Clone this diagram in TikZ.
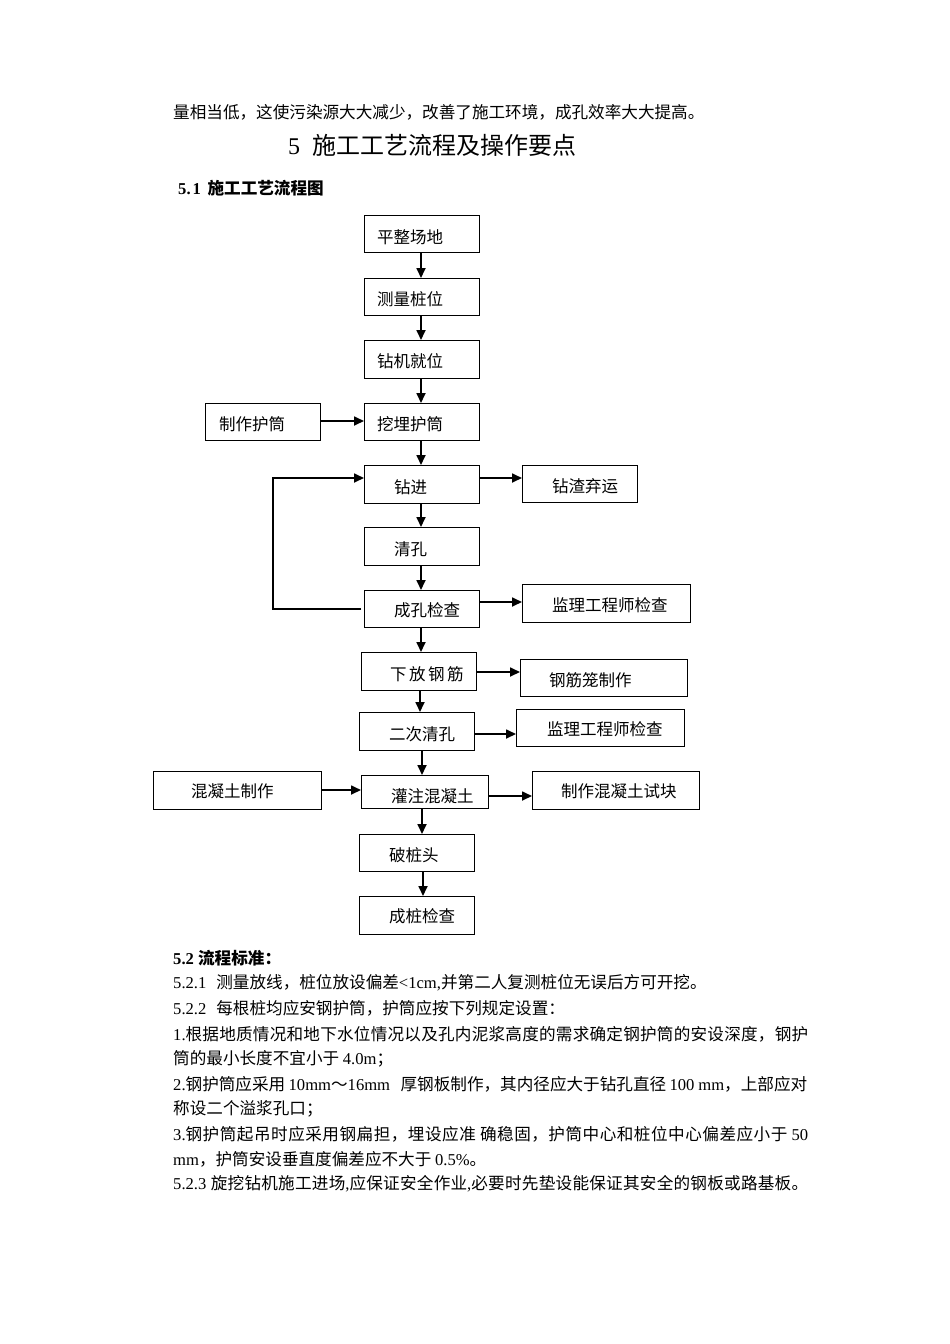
\documentclass[tikz,border=0pt]{standalone}
\usepackage{fontspec}
\usetikzlibrary{arrows.meta}
\setmainfont{Liberation Serif}
\newfontfamily\cjk{Noto Sans CJK SC}
\XeTeXinterchartokenstate=1
\newXeTeXintercharclass\cjkclass
\count255="3000
\loop \XeTeXcharclass\count255=\cjkclass \ifnum\count255<"303F \advance\count255 by 1 \repeat
\count255="4E00
\loop \XeTeXcharclass\count255=\cjkclass \ifnum\count255<"9FFF \advance\count255 by 1 \repeat
\count255="FF00
\loop \XeTeXcharclass\count255=\cjkclass \ifnum\count255<"FFEF \advance\count255 by 1 \repeat
\XeTeXinterchartoks 0 \cjkclass = {\cjk}
\XeTeXinterchartoks 4095 \cjkclass = {\cjk}
\XeTeXinterchartoks \cjkclass 0 = {\rmfamily}
\XeTeXinterchartoks 4095 0 = {\rmfamily}
\XeTeXinterchartoks \cjkclass \cjkclass = {\hskip 0pt plus 2pt}
\newcommand\flowbox[8]{%
  \node[boxstyle, minimum width={#4-#2}, minimum height={#5-#3}, anchor=north west] (#1) at (#2,#3) {};
  \node[lbl, anchor=west] (#1t) at (#6,#7) {#8};
}
\begin{document}
\begin{tikzpicture}[x=1pt,y=-1pt,
  boxstyle/.style={draw=black, line width=1.3pt, inner sep=0pt, rectangle},
  lbl/.style={inner sep=0pt, font=\fontsize{16.5}{19}\selectfont},
  para/.style={inner sep=0pt, anchor=west, font=\fontsize{16.6}{19}\selectfont},
  head/.style={para, font=\bfseries\fontsize{16.6}{19}\selectfont},
  arr/.style={line width=1.7pt, -{Triangle[length=10pt,width=9pt]}},
  ln/.style={line width=1.7pt}]
\useasboundingbox[fill=white] (0,0) rectangle (950,1344);

% text above
\node[para] (p0) at (173,112) {量相当低，这使污染源大大减少，改善了施工环境，成孔效率大大提高。};
\node[para, font=\fontsize{24}{28}\selectfont] (title) at (288,145) {5\hspace{0.5em}施工工艺流程及操作要点};
\node[head] (h51) at (178,188) {5.\hspace{2pt}1\hspace{0.4em}施工工艺流程图};

% boxes
\flowbox{b1}{364}{215}{479}{252}{377}{237}{平整场地}
\flowbox{b2}{364}{278}{479}{315}{377}{299}{测量桩位}
\flowbox{b3}{364}{340}{479}{378}{377}{361}{钻机就位}
\flowbox{b4}{364}{403}{479}{440}{377}{424}{挖埋护筒}
\flowbox{b5}{205}{403}{320}{440}{219}{424}{制作护筒}
\flowbox{b6}{364}{465}{479}{503}{394}{487}{钻进}
\flowbox{b7}{522}{465}{637}{502}{552}{486}{钻渣弃运}
\flowbox{b8}{364}{527}{479}{565}{394}{549}{清孔}
\flowbox{b9}{364}{590}{479}{627}{394}{610}{成孔检查}
\flowbox{b10}{522}{584}{690}{622}{552}{605}{监理工程师检查}
\flowbox{b11}{361}{652}{476}{690}{390}{674}{下\hspace{2.5pt}放\hspace{2.5pt}钢\hspace{2.5pt}筋}
\flowbox{b12}{520}{659}{687}{696}{549}{680}{钢筋笼制作}
\flowbox{b13}{359}{712}{474}{750}{389}{734}{二次清孔}
\flowbox{b14}{516}{709}{684}{746}{547}{729}{监理工程师检查}
\flowbox{b15}{153}{771}{321}{809}{191}{791}{混凝土制作}
\flowbox{b16}{361}{775}{488}{808}{391}{796}{灌注混凝土}
\flowbox{b17}{532}{771}{699}{809}{561}{791}{制作混凝土试块}
\flowbox{b18}{359}{834}{474}{871}{389}{855}{破桩头}
\flowbox{b19}{359}{896}{474}{934}{389}{916}{成桩检查}

% vertical arrows
\draw[arr] (b1.south -| 421,0) -- (b2.north -| 421,0);
\draw[arr] (b2.south -| 421,0) -- (b3.north -| 421,0);
\draw[arr] (b3.south -| 421,0) -- (b4.north -| 421,0);
\draw[arr] (b4.south -| 421,0) -- (b6.north -| 421,0);
\draw[arr] (b6.south -| 421,0) -- (b8.north -| 421,0);
\draw[arr] (b8.south -| 421,0) -- (b9.north -| 421,0);
\draw[arr] (b9.south -| 421,0) -- (b11.north -| 421,0);
\draw[arr] (b11.south -| 420,0) -- (b13.north -| 420,0);
\draw[arr] (b13.south -| 422,0) -- (b16.north -| 422,0);
\draw[arr] (b16.south -| 422,0) -- (b18.north -| 422,0);
\draw[arr] (b18.south -| 423,0) -- (b19.north -| 423,0);

% horizontal arrows
\draw[arr] (b5.east |- 0,421) -- (b4.west |- 0,421);
\draw[arr] (b6.east |- 0,478) -- (b7.west |- 0,478);
\draw[arr] (b9.east |- 0,602) -- (b10.west |- 0,602);
\draw[arr] (b11.east |- 0,672) -- (b12.west |- 0,672);
\draw[arr] (b13.east |- 0,734) -- (b14.west |- 0,734);
\draw[arr] (b15.east |- 0,790) -- (b16.west |- 0,790);
\draw[arr] (b16.east |- 0,796) -- (b17.west |- 0,796);
% feedback loop
\draw[arr] ([xshift=-3pt]b9.west |- 0,609) -- (273,609) -- (273,478) -- (b6.west |- 0,478);

% text below
\node[head] (h52) at (173,958) {5.2 流程标准：};
\node[para] (p1) at (173,983) {5.2.1\hspace{0.6em}测量放线，桩位放设偏差<1cm,并第二人复测桩位无误后方可开挖。};
\node[para] (p2) at (173,1008) {5.2.2\hspace{0.6em}每根桩均应安钢护筒，护筒应按下列规定设置：};
\node[para] (p3) at (173,1034) {\makebox[635pt][s]{1.根据地质情况和地下水位情况以及孔内泥浆高度的需求确定钢护筒的安设深度，钢护}};
\node[para] (p4) at (173,1059) {筒的最小长度不宜小于 4.0m；};
\node[para] (p5) at (173,1084) {\makebox[634pt][s]{2.钢护筒应采用 10mm～16mm\hspace{0.4em} 厚钢板制作，其内径应大于钻孔直径 100 mm，上部应对}};
\node[para] (p6) at (173,1109) {称设二个溢浆孔口；};
\node[para] (p7) at (173,1134) {\makebox[635pt][s]{3.钢护筒起吊时应采用钢扁担，埋设应准 确稳固，护筒中心和桩位中心偏差应小于 50}};
\node[para] (p8) at (173,1159) {mm，护筒安设垂直度偏差应不大于 0.5\%。};
\node[para] (p9) at (173,1184) {\makebox[635pt][s]{5.2.3 旋挖钻机施工进场,应保证安全作业,必要时先垫设能保证其安全的钢板或路基板。}};
\end{tikzpicture}
\end{document}
